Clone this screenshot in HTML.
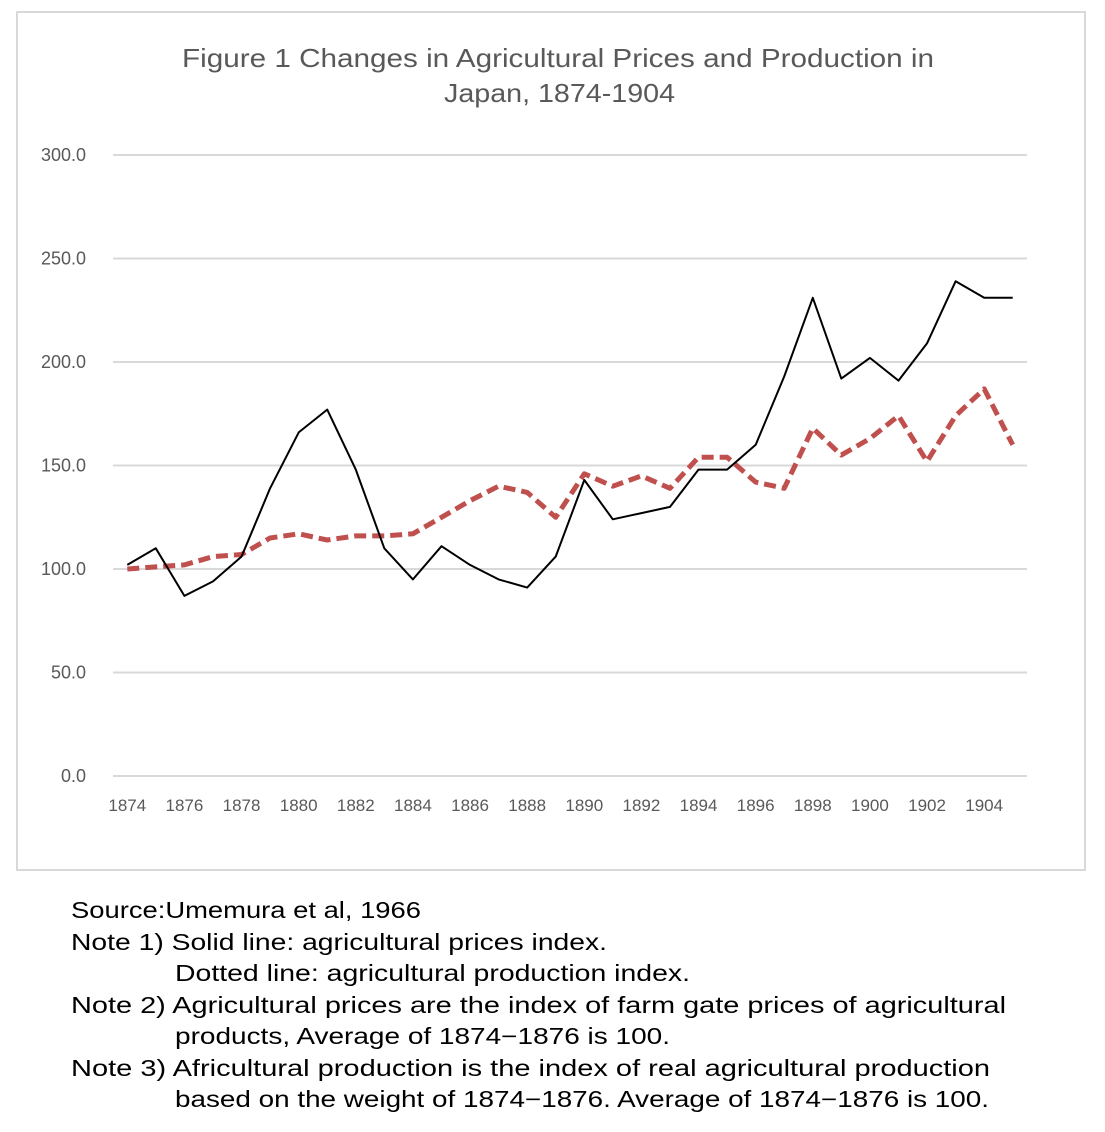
<!DOCTYPE html>
<html><head><meta charset="utf-8"><style>
html,body{margin:0;padding:0;background:#fff;}
svg{display:block;}
</style></head><body>
<svg id="chart" width="1105" height="1132" xmlns="http://www.w3.org/2000/svg">
<rect x="17" y="12" width="1068" height="858" fill="#fff" stroke="#d9d9d9" stroke-width="2"/>
<g font-family="Liberation Sans, sans-serif" fill="#595959" font-size="26">
<text x="182" y="67" textLength="752" lengthAdjust="spacingAndGlyphs">Figure 1  Changes in Agricultural Prices and Production in</text>
<text x="444" y="102" textLength="231" lengthAdjust="spacingAndGlyphs">Japan, 1874-1904</text>
</g>
<g id="grid"></g>
<g id="yticks" font-family="Liberation Sans, sans-serif" font-size="18" fill="#595959" text-anchor="end"></g>
<g id="xticks" font-family="Liberation Sans, sans-serif" font-size="17" fill="#595959" text-anchor="middle"></g>
<path id="prod" fill="none" stroke="#c0504d" stroke-width="5" stroke-dasharray="12,6" stroke-linejoin="round"/>
<path id="price" fill="none" stroke="#000" stroke-width="2" stroke-linejoin="round"/>
<g font-family="Liberation Sans, sans-serif" font-size="23" fill="#000">
<text x="71" y="918" textLength="350" lengthAdjust="spacingAndGlyphs">Source:Umemura et al, 1966</text>
<text x="71" y="950" textLength="536" lengthAdjust="spacingAndGlyphs">Note 1) Solid line: agricultural prices index.</text>
<text x="175" y="981" textLength="515" lengthAdjust="spacingAndGlyphs">Dotted line: agricultural production index.</text>
<text x="71" y="1013" textLength="935" lengthAdjust="spacingAndGlyphs">Note 2) Agricultural prices are the index of farm gate prices of agricultural</text>
<text x="175" y="1044" textLength="495" lengthAdjust="spacingAndGlyphs">products, Average of 1874−1876 is 100.</text>
<text x="71" y="1076" textLength="919" lengthAdjust="spacingAndGlyphs">Note 3) Africultural production is the index of real agricultural production</text>
<text x="175" y="1107" textLength="814" lengthAdjust="spacingAndGlyphs">based on the weight of 1874−1876. Average of 1874−1876 is 100.</text>
</g>
</svg>
<script>
const years=[1874,1875,1876,1877,1878,1879,1880,1881,1882,1883,1884,1885,1886,1887,1888,1889,1890,1891,1892,1893,1894,1895,1896,1897,1898,1899,1900,1901,1902,1903,1904,1905];
const prices=[102,110,87,94,106,139,166,177,148,110,95,111,102,95,91,106,143,124,127,130,148,148,160,193,231,192,202,191,209,239,231,231];
const production=[100,101,102,106,107,115,117,114,116,116,117,125,133,140,137,125,146,140,145,139,154,154,142,139,168,155,163,174,152,174,187,160];
const yTicks=[0,50,100,150,200,250,300];
const NS='http://www.w3.org/2000/svg';
const L=113,R=1027,T=155,B=776;
const xs=i=>L+(R-L)/years.length*(i+0.5);
const ys=v=>B-(B-T)*v/300;
const grid=document.getElementById('grid'),yt=document.getElementById('yticks'),xt=document.getElementById('xticks');
yTicks.forEach(v=>{
 const l=document.createElementNS(NS,'line');
 
 
 l.setAttribute('x1',L);l.setAttribute('x2',R);l.setAttribute('y1',ys(v));l.setAttribute('y2',ys(v));
 l.setAttribute('stroke','#d9d9d9');l.setAttribute('stroke-width','2');
 grid.appendChild(l);
 const t=document.createElementNS(NS,'text');
 
 
 t.setAttribute('x',86);t.setAttribute('y',ys(v)+6);t.textContent=v.toFixed(1);
 yt.appendChild(t);
});
years.forEach((y,i)=>{
 if(i%2)return;
 const t=document.createElementNS(NS,'text');
 
 
 t.setAttribute('x',xs(i));t.setAttribute('y',811);t.textContent=y;
 xt.appendChild(t);
});
const path=a=>a.map((v,i)=>(i?'L':'M')+xs(i).toFixed(1)+','+ys(v).toFixed(1)).join('');
document.getElementById('price').setAttribute('d',path(prices));
document.getElementById('prod').setAttribute('d',path(production));
</script>
</body></html>
